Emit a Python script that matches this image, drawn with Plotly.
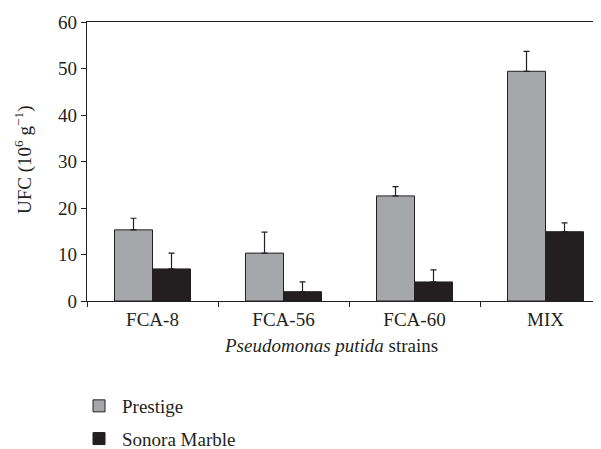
import plotly.graph_objects as go

categories = ["FCA-8", "FCA-56", "FCA-60", "MIX"]
prestige = [15.3, 10.3, 22.6, 49.4]
prestige_err = [2.5, 4.5, 2.0, 4.3]
sonora = [6.9, 2.0, 4.1, 14.9]
sonora_err = [3.4, 2.1, 2.6, 1.9]
y_ticks = [0, 10, 20, 30, 40, 50, 60]

FONT = "Liberation Serif"
TXT = "#231f20"
FS = 19
# the page body adds an 8px offset, so the figure is sized to fit the window
W, H = 593, 441

fig = go.Figure()
fig.add_trace(go.Bar(
    x=categories, y=prestige, name="Prestige", legendgroup="a",
    marker=dict(color="#a6a7ab", line=dict(color=TXT, width=1)),
    error_y=dict(type="data", array=prestige_err, arrayminus=[0]*4, symmetric=False,
                 color=TXT, thickness=1.2, width=3),
))
fig.add_trace(go.Bar(
    x=categories, y=sonora, name="Sonora Marble", legendgroup="b",
    marker=dict(color="#231f20", line=dict(color=TXT, width=1)),
    error_y=dict(type="data", array=sonora_err, arrayminus=[0]*4, symmetric=False,
                 color=TXT, thickness=1.2, width=3),
))

fig.update_layout(
    width=W, height=H,
    margin=dict(l=79, r=1, t=14, b=148, autoexpand=False),
    paper_bgcolor="white", plot_bgcolor="white",
    barmode="group", bargap=0.42, bargroupgap=0,
    font=dict(family=FONT, size=FS, color=TXT),
    showlegend=True,
    legend=dict(xref="container", yref="container", x=68/W, xanchor="left",
                y=1 - 379/H, yanchor="top",
                font=dict(family=FONT, size=FS, color=TXT),
                itemwidth=36, tracegroupgap=5, bgcolor="rgba(0,0,0,0)"),
    xaxis=dict(
        range=[-0.5, 3.416], showline=True, linecolor=TXT, linewidth=1.2,
        mirror=True, ticks="outside", tickson="boundaries", ticklen=5, tickcolor=TXT,
        showgrid=False, zeroline=False,
        tickfont=dict(family=FONT, size=FS, color=TXT), ticklabelstandoff=1,
    ),
    yaxis=dict(
        range=[0, 60], tickvals=y_ticks, showline=True, linecolor=TXT, linewidth=1.2,
        ticks="outside", ticklen=5, tickcolor=TXT, showgrid=False, zeroline=False,
        tickfont=dict(family=FONT, size=FS, color=TXT),
    ),
    annotations=[
        dict(text="UFC (10<sup>6</sup> g<sup>−1</sup>)", xref="paper", yref="paper",
             x=-0.125, y=0.505, textangle=-90, showarrow=False,
             xanchor="center", yanchor="middle", font=dict(family=FONT, size=FS, color=TXT)),
        dict(text="<i>Pseudomonas putida</i> strains", xref="paper", yref="paper",
             x=0.476, y=-0.16, showarrow=False, xanchor="center", yanchor="middle",
             font=dict(family=FONT, size=FS, color=TXT)),
    ],
)

fig.write_html("out.html")
